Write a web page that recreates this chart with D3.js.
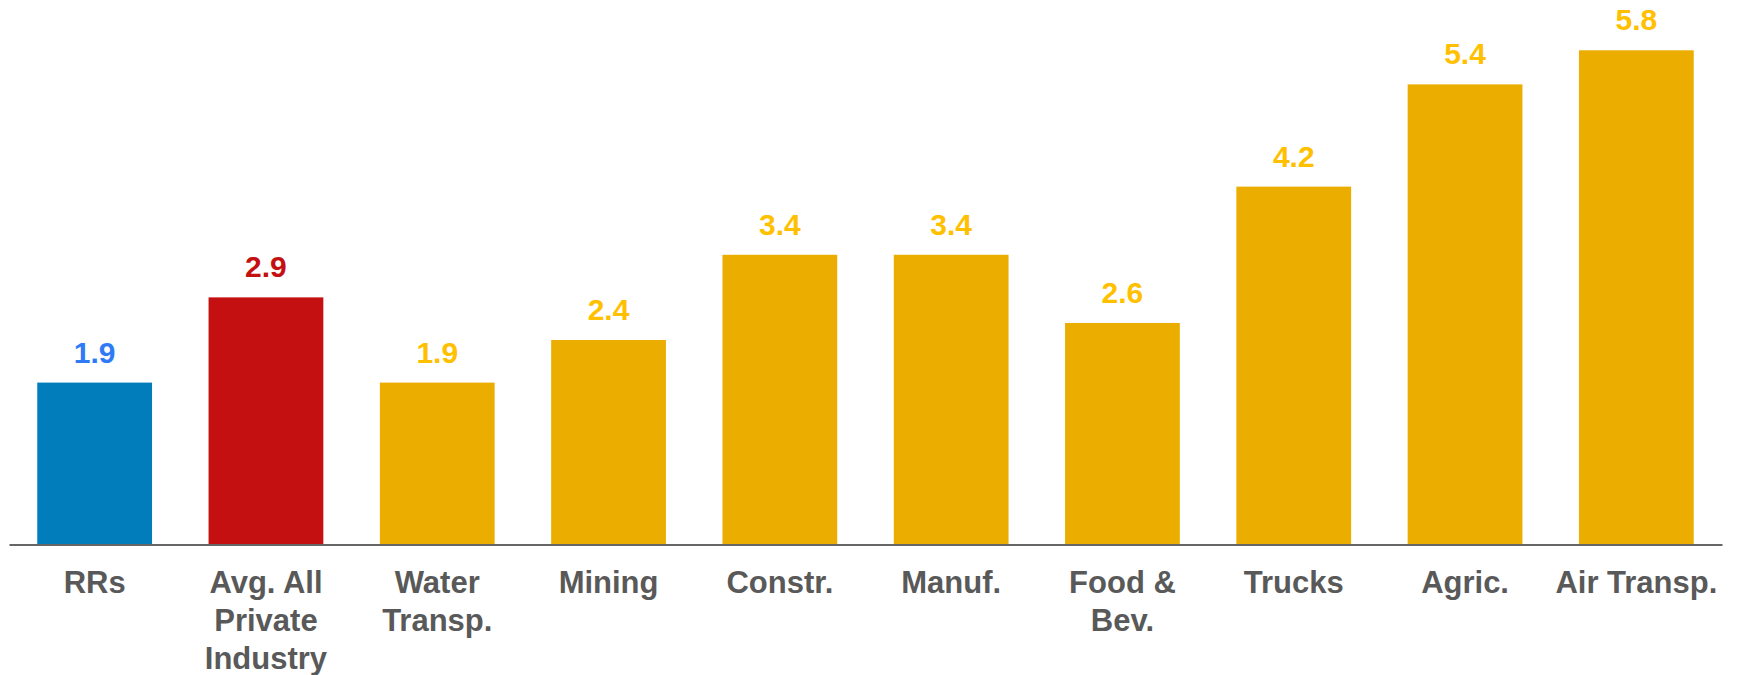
<!DOCTYPE html>
<html lang="en">
<head>
    <meta charset="UTF-8" />
    <title>Bar chart</title>
    <script src="https://cdn.jsdelivr.net/npm/d3@7/dist/d3.min.js"></script>
    <style>
        html, body { margin: 0; padding: 0; background: #fff; }
        svg { display: block; font-family: "Liberation Sans", Arial, sans-serif; }
    </style>
</head>
<body>
    <svg id="chart"></svg>
    <script>
        // data
        const categories = ["RRs", "Avg. All\nPrivate\nIndustry", "Water\nTransp.", "Mining", "Constr.",
            "Manuf.", "Food &\nBev.", "Trucks", "Agric.", "Air Transp."];
        const values = [1.9, 2.9, 1.9, 2.4, 3.4, 3.4, 2.6, 4.2, 5.4, 5.8];
        const groups = ["rr", "avg", "ind", "ind", "ind", "ind", "ind", "ind", "ind", "ind"];

        const barColor = { rr: "#007dba", avg: "#c41010", ind: "#ebae00" };
        const labelColor = { rr: "#2f7bf5", avg: "#c41010", ind: "#ffc000" };

        const width = 1737, height = 675;
        const margin = { top: 0, left: 9, right: 15, baseline: 544.5 };

        const svg = d3.select("#chart")
            .attr("width", width)
            .attr("height", height);

        const data = categories.map((c, i) => ({ name: c, value: values[i], group: groups[i] }));

        const x = d3.scaleBand()
            .domain(categories)
            .range([margin.left, width - margin.right])
            .paddingInner(0.33)
            .paddingOuter(0.165);

        const y = d3.scaleLinear()
            .domain([0, 6.39])
            .range([margin.baseline, 0]);

        // bars
        svg.selectAll("rect.bar")
            .data(data)
            .join("rect")
            .attr("class", "bar")
            .attr("x", d => x(d.name))
            .attr("y", d => y(d.value))
            .attr("width", x.bandwidth())
            .attr("height", d => y(0) - y(d.value))
            .attr("fill", d => barColor[d.group]);

        // value labels
        svg.selectAll("text.val")
            .data(data)
            .join("text")
            .attr("class", "val")
            .attr("x", d => x(d.name) + x.bandwidth() / 2)
            .attr("y", d => y(d.value) - 20)
            .attr("text-anchor", "middle")
            .attr("font-size", 30)
            .attr("font-weight", "bold")
            .attr("fill", d => labelColor[d.group])
            .text(d => d.value.toFixed(1));

        // x axis
        const xAxis = svg.append("g")
            .attr("transform", `translate(0, ${margin.baseline})`)
            .call(d3.axisBottom(x).tickSize(0).tickFormat(""));
        xAxis.select(".domain")
            .attr("stroke", "#666")
            .attr("stroke-width", 2);

        xAxis.selectAll(".tick")
            .append("text")
            .attr("class", "cat")
            .attr("text-anchor", "middle")
            .attr("fill", "#595959")
            .attr("font-size", 31)
            .attr("font-weight", "bold")
            .each(function (d) {
                const t = d3.select(this);
                d.split("\n").forEach((line, i) => {
                    t.append("tspan")
                        .attr("x", 0)
                        .attr("y", 48 + i * 38)
                        .text(line);
                });
            });
    </script>
</body>
</html>
